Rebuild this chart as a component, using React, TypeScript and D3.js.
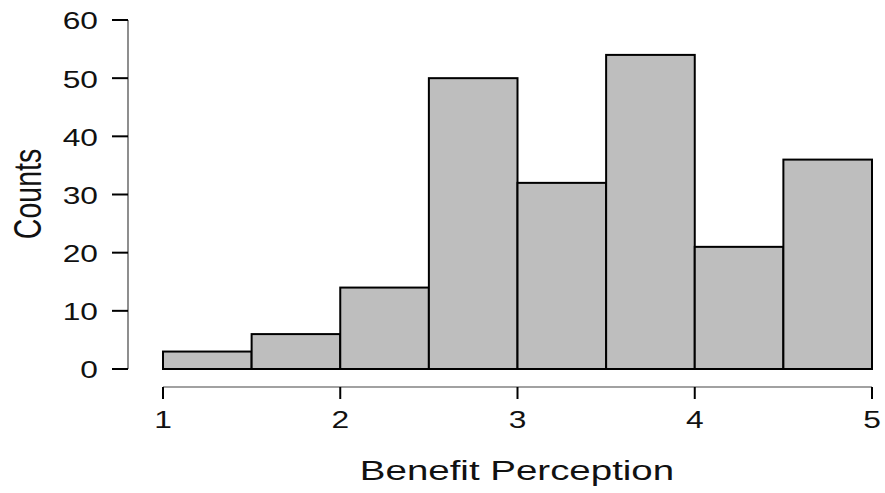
import React from "react";
import * as d3 from "d3";

const binStarts = [1, 1.5, 2, 2.5, 3, 3.5, 4, 4.5];
const binWidth = 0.5;
const counts = [3, 6, 14, 50, 32, 54, 21, 36];
const xTicks = [1, 2, 3, 4, 5];
const yTicks = [0, 10, 20, 30, 40, 50, 60];

export default function App() {
  const W = 885, H = 493;
  const x = d3.scaleLinear().domain([1, 5]).range([163, 872]);
  const y = d3.scaleLinear().domain([0, 60]).range([369, 20]);
  const font = "Liberation Sans, Arial, sans-serif";
  const sx = 1.35;
  const axisY = 387;
  const axisX = 128;
  return (
    <svg width={W} height={H} style={{ position: "absolute", left: 0, top: 0 }}>
      <rect width={W} height={H} fill="white" />
      {binStarts.map((b, i) => (
        <rect
          key={i}
          x={x(b)}
          y={y(counts[i])}
          width={x(b + binWidth) - x(b)}
          height={y(0) - y(counts[i])}
          fill="#bebebe"
          stroke="#000"
          strokeWidth={2}
        />
      ))}
      {/* y axis */}
      <line x1={axisX} x2={axisX} y1={y(60)} y2={y(0)} stroke="#444" strokeWidth={1.2} />
      {yTicks.map((t) => (
        <g key={t}>
          <line x1={axisX - 16} x2={axisX} y1={y(t)} y2={y(t)} stroke="#000" strokeWidth={2} />
          <text
            transform={`translate(98, ${y(t) + 1}) scale(${sx},1)`}
            dy="0.36em"
            textAnchor="end"
            fontFamily={font}
            fontSize={23.5}
            fill="#111"
          >
            {t}
          </text>
        </g>
      ))}
      {/* x axis */}
      <line x1={x(1)} x2={x(5)} y1={axisY} y2={axisY} stroke="#444" strokeWidth={1.2} />
      {xTicks.map((t) => (
        <g key={t}>
          <line x1={x(t)} x2={x(t)} y1={axisY} y2={axisY + 12} stroke="#000" strokeWidth={2} />
          <text
            transform={`translate(${x(t)}, 420) scale(${sx},1)`}
            dy="0.36em"
            textAnchor="middle"
            fontFamily={font}
            fontSize={23.5}
            fill="#111"
          >
            {t}
          </text>
        </g>
      ))}
      <text
        transform={`translate(517, 470) scale(${sx},1)`}
        dy="0.36em"
        textAnchor="middle"
        fontFamily={font}
        fontSize={28.5}
        fill="#111"
      >
        Benefit Perception
      </text>
      <text
        transform={`translate(27, 194) scale(${sx},1) rotate(-90)`}
        dy="0.36em"
        textAnchor="middle"
        fontFamily={font}
        fontSize={28.5}
        fill="#111"
      >
        Counts
      </text>
    </svg>
  );
}
